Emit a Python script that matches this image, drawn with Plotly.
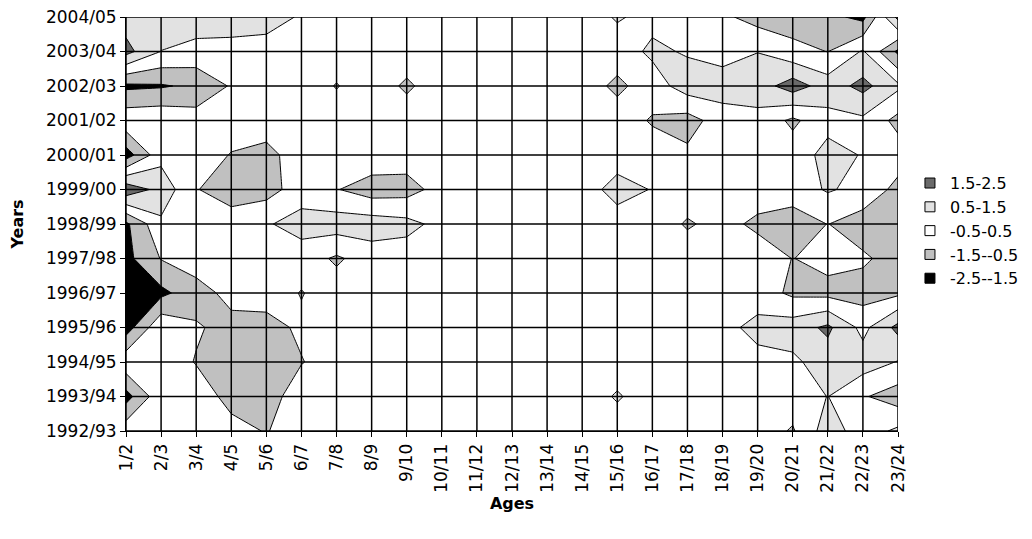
import plotly.graph_objects as go

ages = ["1/2", "2/3", "3/4", "4/5", "5/6", "6/7", "7/8", "8/9", "9/10", "10/11", "11/12",
        "12/13", "13/14", "14/15", "15/16", "16/17", "17/18", "18/19", "19/20", "20/21",
        "21/22", "22/23", "23/24"]
years = ["1992/93", "1993/94", "1994/95", "1995/96", "1996/97", "1997/98", "1998/99",
         "1999/00", "2000/01", "2001/02", "2002/03", "2003/04", "2004/05"]

# values per year (rows), one per age (columns)
r1992 = [0.1, 0, 0, -0.2, -0.55, 0, 0, 0, 0, 0, 0, 0, 0, 0, 0, 0, 0, 0, 0, -0.6, 1.0, 0, 0.7]
r1993 = [-1.9, 0.2, 0, -0.8, -1.0, 0.1, 0, 0, 0, 0, 0, 0, 0, 0, 0.6, 0, 0, 0, 0, 0, 0.52, -0.4, -1.0]
r1994 = [0.2, 0, -0.55, -1.0, -1.1, -0.55, 0, 0, 0, 0, 0, 0, 0, 0, 0, 0, 0, 0, 0.2, 0.3, 1.0, 1.0, 0.45]
r1995 = [-2.0, 0.3, -0.4, -0.8, -0.9, -0.3, 0, 0, 0, 0, 0, 0, 0, 0, 0, 0, 0, 0.2, 0.8, 1.0, 1.7, 0.2, 1.8]
r1996 = [-2.3, -1.75, -0.9, -0.2, 0, -0.55, 0, 0, 0, 0, 0, 0, 0, 0, 0, 0, 0, 0, 0, -0.7, -0.8, -0.9, -0.7]
r1997 = [-1.8, -0.45, 0, 0, 0, 0, -0.65, 0, 0, 0, 0, 0, 0, 0, 0, 0, 0, 0, 0, -0.52, -0.2, -0.35, -0.9]
r1998 = [-1.7, 0.3, 0, 0, 0.4, 0.9, 1.0, 1.0, 0.8, 0.2, 0, 0, 0, 0, 0, 0, -0.6, -0.2, -0.7, -1.0, -0.48, -1.0, -1.0]
r1999 = [2.2, 1.15, -0.45, -1.0, -0.9, 0, -0.45, -1.0, -0.9, -0.1, 0, 0, 0, 0, 0.9, 0.45, 0, 0, 0, 0, 0.6, 0.2, -0.8]
r2000 = [-2.0, 0.17, 0, -0.55, -0.8, 0, 0, 0.2, 0, 0, 0, 0, 0, 0, 0, 0, -0.3, 0, 0, 0, 0.8, 0.45, 0]
r2001 = [0.2, 0.3, 0, 0, 0, 0, 0, 0, 0, 0, 0, 0, 0, 0, 0, -0.6, -0.9, 0, 0.2, -0.7, 0.2, 0.3, -0.8]
r2002 = [-1.7, -1.6, -1.3, -0.4, 0, 0, -0.55, 0, -0.65, 0, 0, 0, 0, 0, -0.72, 0, 1.0, 1.0, 1.0, 2.0, 1.0, 1.8, 0.7]
r2003 = [1.83, 0.48, 0.2, 0.15, 0.1, 0, 0, 0, 0, 0, 0, 0, 0, 0, 0, 0.7, 0.4, 0.1, 0.48, -0.2, -0.52, 0.6, -1.7]
r2004 = [1.0, 1.2, 1.0, 1.0, 0.9, 0.4, 0, 0, 0, 0, 0, 0, 0, 0, 0.6, 0.2, 0.1, -0.3, -0.9, -1.0, -1.2, -1.8, 1.8]

z = [r1992, r1993, r1994, r1995, r1996, r1997, r1998, r1999, r2000, r2001, r2002, r2003, r2004]

band_labels = ["1.5-2.5", "0.5-1.5", "-0.5-0.5", "-1.5--0.5", "-2.5--1.5"]
band_colors = ["#6a6a6a", "#e2e2e2", "#ffffff", "#c0c0c0", "#000000"]

c_black, c_gray, c_white, c_light, c_dark = band_colors[4], band_colors[3], band_colors[2], band_colors[1], band_colors[0]
colorscale = [
    [0.0, c_black], [0.25, c_black],
    [0.25, c_gray], [0.4167, c_gray],
    [0.4167, c_white], [0.5833, c_white],
    [0.5833, c_light], [0.75, c_light],
    [0.75, c_dark], [1.0, c_dark],
]

FONT = "DejaVu Sans"

fig = go.Figure()
fig.add_trace(go.Contour(
    x=ages, y=years, z=z,
    colorscale=colorscale,
    showscale=False,
    autocontour=False,
    contours=dict(start=-2.5, end=2.5, size=1, coloring="fill", showlines=True),
    line=dict(color="black", width=1, smoothing=0),
    hoverinfo="skip",
    showlegend=False,
))

for lab, col in zip(band_labels, band_colors):
    fig.add_trace(go.Scatter(
        x=[None], y=[None], mode="markers", name=lab,
        marker=dict(symbol="square", size=10, color=col, line=dict(color="black", width=1)),
    ))

shapes = []
for i, _ in enumerate(ages):
    shapes.append(dict(type="line", xref="x", yref="paper", x0=i, x1=i, y0=0, y1=1,
                       layer="above", line=dict(color="black", width=1.5)))
for j, _ in enumerate(years):
    shapes.append(dict(type="line", xref="paper", yref="y", x0=0, x1=1, y0=j, y1=j,
                       layer="above", line=dict(color="black", width=1.5)))

# page body has an 8px margin, so the figure is drawn 8px smaller
fig.update_layout(
    template="none",
    width=1024, height=531,
    margin=dict(l=118, r=134, t=9, b=108, autoexpand=False),
    paper_bgcolor="white", plot_bgcolor="white",
    font=dict(family=FONT, size=17, color="black"),
    shapes=shapes,
    showlegend=True,
    legend=dict(x=1.0155, y=0.484, xanchor="left", yanchor="middle",
                font=dict(family=FONT, size=16, color="black"),
                bgcolor="rgba(0,0,0,0)", itemclick=False, itemwidth=30),
    xaxis=dict(type="category", range=[0, len(ages) - 1], tickangle=-90, automargin=False,
               ticks="outside", ticklen=5, tickcolor="black", showgrid=False,
               showline=True, linecolor="black", zeroline=False,
               title=dict(text="<b>Ages</b>", font=dict(family=FONT, size=16), standoff=6)),
    yaxis=dict(type="category", range=[0, len(years) - 1], automargin=False,
               ticks="outside", ticklen=5, tickcolor="black", showgrid=False,
               showline=True, linecolor="black", zeroline=False,
               title=dict(text="<b>Years</b>", font=dict(family=FONT, size=16), standoff=19)),
)

fig.write_html("out.html")
